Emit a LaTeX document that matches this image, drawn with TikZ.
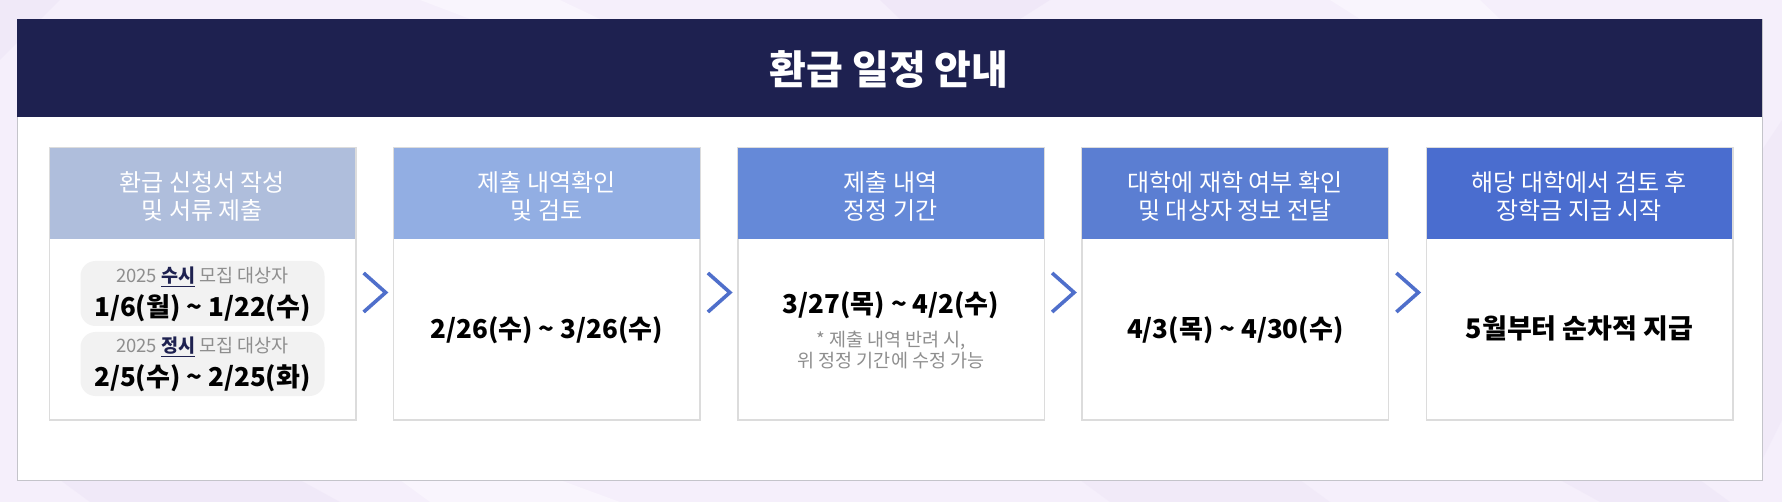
\documentclass[tikz,border=0pt]{standalone}
\usepackage{fontspec}
\setmainfont{Noto Sans CJK KR}
\usetikzlibrary{calc}
\definecolor{navy}{HTML}{1E2150}
\definecolor{hA}{HTML}{AFBEDC}
\definecolor{hB}{HTML}{92AEE3}
\definecolor{hC}{HTML}{6589D8}
\definecolor{hD}{HTML}{5B7ED2}
\definecolor{hE}{HTML}{4A6DCF}
\definecolor{chevc}{HTML}{4F6FCB}
\definecolor{bgc}{HTML}{F5EFFB}
\definecolor{bgd}{HTML}{EEE6F7}
\definecolor{bgl}{HTML}{F9F5FD}
\definecolor{cardline}{HTML}{DCDCDC}
\definecolor{panelline}{HTML}{C4C4CA}
\definecolor{pillc}{HTML}{F2F2F2}
\definecolor{graytext}{HTML}{8E8E8E}
\tikzset{
  card/.style={draw=cardline, line width=1pt, fill=white, minimum width=306pt, minimum height=271pt, anchor=north west, inner sep=0pt},
  cardhead/.style={minimum width=306pt, minimum height=91pt, anchor=north west, inner sep=0pt},
  headtext/.style={text=white, align=center, font=\fontsize{24pt}{28pt}\selectfont},
  datetext/.style={text=black, font=\bfseries\fontsize{26pt}{30pt}\selectfont},
  smalltext/.style={text=graytext, font=\fontsize{18.5pt}{20pt}\selectfont},
  notetext/.style={text=graytext, align=center, font=\fontsize{18.5pt}{20.5pt}\selectfont},
  pillbox/.style={fill=pillc, rounded corners=15pt, minimum width=244pt, minimum height=64pt, inner sep=0pt},
  chevron/.style={draw=chevc, line width=3.6pt, miter limit=10},
}
\newcommand{\hl}[1]{\textcolor{navy}{\bfseries\underline{#1}}}
\begin{document}
\begin{tikzpicture}[x=1pt,y=-1pt]
\useasboundingbox (0,0) rectangle (1782,502);
% background
\fill[bgc] (0,0) rectangle (1782,502);
\fill[bgd,opacity=0.6] (0,60) -- (60,0) -- (0,0) -- cycle;
\fill[bgl] (420,0) -- (560,0) -- (600,19) -- (470,19) -- cycle;
\fill[bgd,opacity=0.7] (880,0) -- (1050,0) -- (1020,19) -- (900,19) -- cycle;
\fill[bgl] (1330,0) -- (1480,0) -- (1500,19) -- (1360,19) -- cycle;
\fill[bgd,opacity=0.6] (60,480) -- (300,480) -- (340,502) -- (90,502) -- cycle;
\fill[bgl] (400,480) -- (560,480) -- (620,502) -- (430,502) -- cycle;
\fill[bgd,opacity=0.5] (1080,480) -- (1300,480) -- (1330,502) -- (1110,502) -- cycle;
\fill[bgd,opacity=0.6] (1560,480) -- (1700,480) -- (1730,502) -- (1600,502) -- cycle;
\fill[bgd,opacity=0.5] (1762,150) -- (1782,120) -- (1782,420) -- (1762,460) -- cycle;
% panel
\node[draw=panelline, line width=1.2pt, fill=white, minimum width=1745.5pt, minimum height=461pt, anchor=north west, inner sep=0pt] (panel) at (16.5,19) {};
\node[fill=navy, minimum width=1745.5pt, minimum height=98pt, anchor=north west, inner sep=0pt] (bar) at (16.5,19) {};
\node[text=white, font=\bfseries\fontsize{40pt}{44pt}\selectfont] (title) at (889,69) {환급 일정 안내};
% cards
\foreach \i/\x/\c in {1/49/hA,2/393.3/hB,3/737.5/hC,4/1081.7/hD,5/1426/hE}{
  \node[card] (c\i) at (\x,148) {};
  \node[cardhead, fill=\c] (h\i) at (c\i.north west) {};
  \draw[cardline, line width=1pt] (c\i.north west) rectangle (c\i.south east);
}
% header texts
\node[headtext] (t1) at ($(h1.center)+(0,3)$) {환급 신청서 작성\\및 서류 제출};
\node[headtext] (t2) at ($(h2.center)+(0,3)$) {제출 내역확인\\및 검토};
\node[headtext] (t3) at ($(h3.center)+(0,3)$) {제출 내역\\정정 기간};
\node[headtext] (t4) at ($(h4.center)+(0,3)$) {대학에 재학 여부 확인\\및 대상자 정보 전달};
\node[headtext] (t5) at ($(h5.center)+(0,3)$) {해당 대학에서 검토 후\\장학금 지급 시작};
% card 1 pills
\node[pillbox, minimum height=65pt] (p1) at ($(c1.north)+(0,145.5)$) {};
\node[pillbox] (p2) at ($(c1.north)+(0,216)$) {};
\node[smalltext] (s1) at ($(c1.north)+(0,129)$) {2025 \hl{수시} 모집 대상자};
\node[datetext] (d1) at ($(c1.north)+(0,160)$) {1/6(월) \textasciitilde{} 1/22(수)};
\node[smalltext] (s2) at ($(c1.north)+(0,199)$) {2025 \hl{정시} 모집 대상자};
\node[datetext] (d1b) at ($(c1.north)+(0,230)$) {2/5(수) \textasciitilde{} 2/25(화)};
% other cards
\node[datetext] (d2) at ($(c2.north)+(0,182)$) {2/26(수) \textasciitilde{} 3/26(수)};
\node[datetext] (d3) at ($(c3.north)+(0,157)$) {3/27(목) \textasciitilde{} 4/2(수)};
\node[notetext] (n3) at ($(c3.north)+(0,202)$) {* 제출 내역 반려 시,\\위 정정 기간에 수정 가능};
\node[datetext] (d4) at ($(c4.north)+(0,182)$) {4/3(목) \textasciitilde{} 4/30(수)};
\node[datetext, font=\bfseries\fontsize{27pt}{30pt}\selectfont] (d5) at ($(c5.north)+(0,180)$) {5월부터 순차적 지급};
% chevrons
\foreach \a/\b in {1/2,2/3,3/4,4/5}{
  \coordinate (k\a) at ($($(c\a.east)!0.5!(c\b.west)$)+(0,8.5)$);
  \draw[chevron] ($(k\a)+(-11,-19.5)$) -- ($(k\a)+(11,0)$) -- ($(k\a)+(-11,19.5)$);
}
\end{tikzpicture}
\end{document}
